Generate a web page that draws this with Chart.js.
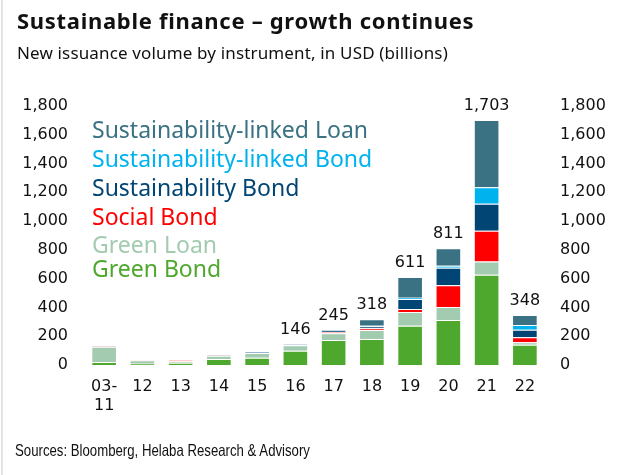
<!DOCTYPE html>
<html>
<head>
<meta charset="utf-8">
<script src="https://cdn.jsdelivr.net/npm/chart.js@4/dist/chart.umd.min.js"></script>
<style>
  html, body { margin: 0; padding: 0; background: #fff; }
  body { width: 627px; height: 475px; position: relative; overflow: hidden; font-family: "Noto Sans", sans-serif; color: #111; }
  #edge { position: absolute; left: 1px; top: 0; width: 2px; height: 475px; background: #e4e4e4; }
  #chartBox { position: absolute; left: 0; top: 0; width: 627px; height: 475px; }
  .title { position: absolute; left: 17px; top: 9px; font-size: 22px; line-height: 22px; letter-spacing: 0.7px; font-weight: bold; white-space: nowrap; z-index: 2; }
  .subtitle { position: absolute; left: 17px; top: 44px; font-size: 17px; line-height: 17px; letter-spacing: 0.15px; white-space: nowrap; z-index: 2; }
  .source { position: absolute; left: 15px; top: 442px; font-family: "Liberation Sans", sans-serif; font-size: 16.5px; line-height: 16px; white-space: nowrap; transform: scaleX(0.8); transform-origin: left top; z-index: 2; }
</style>
</head>
<body>
<div id="edge"></div>
<div class="title">Sustainable finance – growth continues</div>
<div class="subtitle">New issuance volume by instrument, in USD (billions)</div>
<div id="chartBox"><canvas id="issuance"></canvas></div>
<div class="source">Sources: Bloomberg, Helaba Research &amp; Advisory</div>
<script>
// new issuance in USD bn, 2003-11 cumulated, then yearly
const years = [['03-', '11'], '12', '13', '14', '15', '16', '17', '18', '19', '20', '21', '22'];
const greenBond          = [21,  9, 16, 42, 51, 99, 174, 181, 273, 313, 628, 141];
const greenLoan          = [106, 24, 10, 23, 32, 38, 46,  62,  95,  90,  92,  17];
const socialBond         = [3,   3,  7,  1,  1,  2, 10,  12,  21, 151, 213,  34];
const sustainabilityBond = [4,   2,  1,  3,  5,  5,  8,  14,  70, 122, 188,  53];
const sustLinkedBond     = [0,   0,  0,  0,  0,  0,  2,   4,   9,  14, 114,  33];
const sustLinkedLoan     = [0,   1,  1,  0,  1,  2,  5,  45, 143, 121, 468,  70];
// totals are printed from 2016 onwards
const showTotal = [false, false, false, false, false, true, true, true, true, true, true, true];
const yTicks = [0, 200, 400, 600, 800, 1000, 1200, 1400, 1600, 1800];

const series = [
    { label: 'Green Bond', data: greenBond, color: '#4fa82e' },
    { label: 'Green Loan', data: greenLoan, color: '#a2cbb0' },
    { label: 'Social Bond', data: socialBond, color: '#ff0000' },
    { label: 'Sustainability Bond', data: sustainabilityBond, color: '#004574' },
    { label: 'Sustainability-linked Bond', data: sustLinkedBond, color: '#00b2ee' },
    { label: 'Sustainability-linked Loan', data: sustLinkedLoan, color: '#3a7283' }
];

const tickFont = { family: 'DejaVu Sans', size: 16 };
const noGrid = { display: false, drawTicks: false };

// legend drawn as coloured text inside the plot, top entry first
const textLegend = {
    id: 'textLegend',
    afterDraw(chart) {
        const ctx = chart.ctx;
        const baselines = [138, 167, 196, 224.5, 252.5, 276.5];
        const items = chart.data.datasets.slice().reverse();
        ctx.save();
        ctx.font = '23px "Noto Sans"';
        ctx.textAlign = 'left';
        ctx.textBaseline = 'alphabetic';
        items.forEach((ds, i) => {
            ctx.fillStyle = ds.backgroundColor;
            ctx.fillText(ds.label, 92, baselines[i]);
        });
        ctx.restore();
    }
};

// stack totals above the bars
const totalLabels = {
    id: 'totalLabels',
    afterDatasetsDraw(chart) {
        const ctx = chart.ctx;
        const yScale = chart.scales.y;
        const bars = chart.getDatasetMeta(0).data;
        ctx.save();
        ctx.font = '16px "DejaVu Sans"';
        ctx.fillStyle = '#111';
        ctx.textAlign = 'center';
        ctx.textBaseline = 'alphabetic';
        years.forEach((yr, i) => {
            if (!showTotal[i]) return;
            const total = chart.data.datasets.reduce((s, ds) => s + ds.data[i], 0);
            const y = yScale.getPixelForValue(total);
            ctx.fillText(total.toLocaleString('en-US'), bars[i].x, y - 10);
        });
        ctx.restore();
    }
};

new Chart(document.getElementById('issuance'), {
    type: 'bar',
    data: {
        labels: years,
        datasets: series.map(s => ({
            label: s.label,
            data: s.data,
            backgroundColor: s.color,
            borderColor: 'rgba(255,255,255,0.4)',
            borderWidth: 1,
            categoryPercentage: 1,
            barPercentage: 0.67
        }))
    },
    options: {
        responsive: true,
        maintainAspectRatio: false,
        animation: false,
        locale: 'en-US',
        layout: { padding: { top: 106, left: 0, right: 0, bottom: 0 } },
        plugins: {
            legend: { display: false },
            tooltip: { enabled: false }
        },
        scales: {
            x: {
                stacked: true,
                grid: noGrid,
                border: { display: false },
                ticks: { font: tickFont, color: '#111', padding: 12, maxRotation: 0, autoSkip: false },
                afterFit: scale => { scale.height = 110; }
            },
            y: {
                stacked: true,
                position: 'left',
                min: 0,
                max: 1800,
                grid: noGrid,
                border: { display: false },
                afterBuildTicks: scale => { scale.ticks = yTicks.map(v => ({ value: v })); },
                ticks: { font: tickFont, color: '#111', padding: 17 },
                afterFit: scale => { scale.width = 85; }
            },
            y2: {
                position: 'right',
                display: true,
                min: 0,
                max: 1800,
                grid: noGrid,
                border: { display: false },
                afterBuildTicks: scale => { scale.ticks = yTicks.map(v => ({ value: v })); },
                ticks: { font: tickFont, color: '#111', padding: 16 },
                afterFit: scale => { scale.width = 83; }
            }
        }
    },
    plugins: [totalLabels, textLegend]
});
</script>
</body>
</html>
